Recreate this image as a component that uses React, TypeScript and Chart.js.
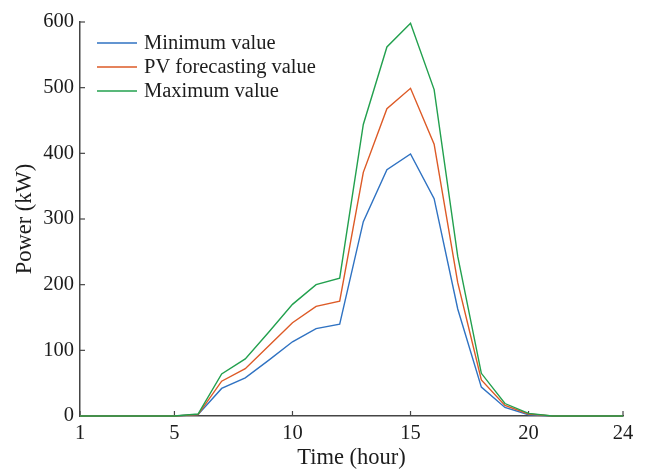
import React, { useEffect, useRef } from "react";
import { Chart, registerables } from "chart.js";

Chart.register(...registerables);

const hours = [1, 2, 3, 4, 5, 6, 7, 8, 9, 10, 11, 12, 13, 14, 15, 16, 17, 18, 19, 20, 21, 22, 23, 24];
const minValues = [0, 0, 0, 0, 0, 2, 42, 58, 85, 113, 133, 140, 296, 375, 399, 331, 163, 44, 13, 2, 0, 0, 0, 0];
const pvValues = [0, 0, 0, 0, 0, 2, 53, 72, 107, 142, 167, 175, 371, 468, 499, 414, 203, 55, 16, 3, 0, 0, 0, 0];
const maxValues = [0, 0, 0, 0, 0, 3, 64, 87, 128, 170, 200, 210, 444, 562, 598, 497, 243, 65, 19, 4, 0, 0, 0, 0];
const xTickValues = [1, 5, 10, 15, 20, 24];
const seriesLabels = ["Minimum value", "PV forecasting value", "Maximum value"];
const seriesColors = ["#2f72c2", "#dd5a26", "#22a04e"];

const FONT = "'Liberation Serif', 'Times New Roman', serif";
const AXIS_COLOR = "#454545";
const TEXT_COLOR = "#1c1c1c";

const innerTicks = {
  id: "innerTicks",
  beforeDatasetsDraw(chart: any) {
    const { ctx, chartArea, scales } = chart;
    ctx.save();
    ctx.strokeStyle = AXIS_COLOR;
    ctx.lineWidth = 1.2;
    const len = 5;
    scales.x.ticks.forEach((t: any) => {
      const px = scales.x.getPixelForValue(t.value);
      ctx.beginPath();
      ctx.moveTo(px, chartArea.bottom);
      ctx.lineTo(px, chartArea.bottom - len);
      ctx.stroke();
    });
    scales.y.ticks.forEach((t: any) => {
      const py = scales.y.getPixelForValue(t.value);
      ctx.beginPath();
      ctx.moveTo(chartArea.left, py);
      ctx.lineTo(chartArea.left + len, py);
      ctx.stroke();
    });
    ctx.restore();
  },
};

const customLegend = {
  id: "customLegend",
  afterDraw(chart: any) {
    const { ctx } = chart;
    ctx.save();
    ctx.font = `20.5px ${FONT}`;
    ctx.textBaseline = "middle";
    ctx.textAlign = "left";
    chart.data.datasets.forEach((ds: any, i: number) => {
      const y = 43 + i * 24;
      ctx.strokeStyle = ds.borderColor;
      ctx.lineWidth = 1.4;
      ctx.beginPath();
      ctx.moveTo(97, y);
      ctx.lineTo(137, y);
      ctx.stroke();
      ctx.fillStyle = TEXT_COLOR;
      ctx.fillText(ds.label, 144, y + 1);
    });
    ctx.restore();
  },
};

export default function App() {
  const canvasRef = useRef<HTMLCanvasElement | null>(null);

  useEffect(() => {
    if (!canvasRef.current) return;
    const series = [minValues, pvValues, maxValues];
    const chart = new Chart(canvasRef.current, {
      type: "line",
      data: {
        datasets: series.map((vals, i) => ({
          label: seriesLabels[i],
          data: hours.map((h, j) => ({ x: h, y: vals[j] })),
          borderColor: seriesColors[i],
          backgroundColor: seriesColors[i],
          borderWidth: 1.4,
          pointRadius: 0,
          tension: 0,
          fill: false,
          clip: false,
          order: 2 - i,
        })),
      },
      options: {
        animation: false,
        responsive: false,
        layout: { padding: { top: 22, right: 23, left: 0, bottom: 0 } },
        plugins: {
          legend: { display: false },
          tooltip: { enabled: false },
        },
        scales: {
          x: {
            type: "linear",
            min: 1,
            max: 24,
            afterBuildTicks: (scale: any) => {
              scale.ticks = xTickValues.map((v) => ({ value: v }));
            },
            afterFit: (scale: any) => {
              scale.height = 53;
            },
            grid: { display: true, drawOnChartArea: false, drawTicks: false, color: "rgba(0,0,0,0)" },
            border: { display: true, color: AXIS_COLOR, width: 1.5 },
            ticks: {
              autoSkip: false,
              maxRotation: 0,
              padding: 5,
              color: TEXT_COLOR,
              font: { family: FONT, size: 20.5 },
            },
            title: {
              display: true,
              text: "Time (hour)",
              color: TEXT_COLOR,
              font: { family: FONT, size: 22.5, lineHeight: 1 },
              padding: { top: 0, bottom: 0 },
            },
          },
          y: {
            min: 0,
            max: 600,
            afterFit: (scale: any) => {
              scale.width = 80;
            },
            grid: { display: true, drawOnChartArea: false, drawTicks: false, color: "rgba(0,0,0,0)" },
            border: { display: true, color: AXIS_COLOR, width: 1.5 },
            ticks: {
              stepSize: 100,
              padding: 6,
              color: TEXT_COLOR,
              font: { family: FONT, size: 20.5 },
            },
            title: {
              display: true,
              text: "Power (kW)",
              color: TEXT_COLOR,
              font: { family: FONT, size: 22.5, lineHeight: 1 },
              padding: { top: 14, bottom: 0 },
            },
          },
        },
      },
      plugins: [innerTicks, customLegend],
    });
    return () => chart.destroy();
  }, []);

  return (
    <div style={{ position: "absolute", left: 0, top: 0, width: 646, height: 469, background: "#fff" }}>
      <canvas ref={canvasRef} width={646} height={469} style={{ display: "block" }} />
    </div>
  );
}
